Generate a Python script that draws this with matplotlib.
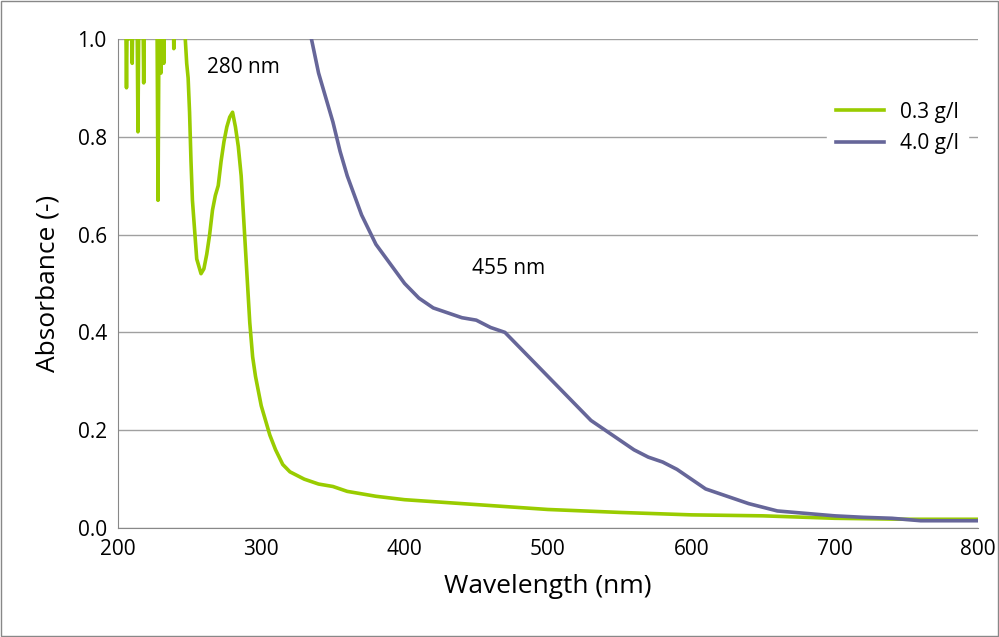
import matplotlib
matplotlib.use("Agg")
import matplotlib.pyplot as plt

plt.rcParams['font.family'] = ['Open Sans', 'DejaVu Sans']

wl_green = [205,206,207,208,209,210,211,212,213,214,215,216,217,218,219,220,221,222,223,226,227,228,229,230,231,232,233,236,238,239,240,241,244,246,247,248,249,250,251,252,253,255,258,260,262,264,266,268,270,272,274,276,278,280,282,284,286,288,290,292,294,296,298,300,303,306,310,315,320,330,340,350,360,380,400,450,500,550,600,650,700,750,800]
ab_green = [1.2,0.9,1.2,1.0,1.2,0.95,1.2,1.2,1.2,0.81,1.2,1.2,1.2,0.91,1.2,1.2,1.2,1.2,1.2,1.2,1.2,0.67,1.2,0.93,1.2,0.95,1.2,1.2,1.2,0.98,1.2,1.2,1.2,1.2,1.0,0.95,0.92,0.85,0.75,0.67,0.63,0.55,0.52,0.53,0.56,0.60,0.65,0.68,0.70,0.75,0.79,0.82,0.84,0.85,0.82,0.78,0.72,0.62,0.52,0.42,0.35,0.31,0.28,0.25,0.22,0.19,0.16,0.13,0.115,0.10,0.09,0.085,0.075,0.065,0.058,0.048,0.038,0.032,0.027,0.025,0.02,0.018,0.018]

wl_blue = [335,340,345,350,355,360,365,370,380,390,400,410,420,430,440,450,460,470,480,490,500,510,520,530,540,550,560,570,580,590,600,610,620,640,660,680,700,720,740,760,780,800]
ab_blue = [1.0,0.93,0.88,0.83,0.77,0.72,0.68,0.64,0.58,0.54,0.50,0.47,0.45,0.44,0.43,0.425,0.41,0.40,0.37,0.34,0.31,0.28,0.25,0.22,0.20,0.18,0.16,0.145,0.135,0.12,0.10,0.08,0.07,0.05,0.035,0.03,0.025,0.022,0.02,0.015,0.015,0.015]

fig = plt.figure(figsize=(9.99, 6.37), dpi=100)
ax = fig.add_axes([0.118, 0.171, 0.861, 0.768])
ax.plot(wl_green, ab_green, color='#99cc00', lw=2.6, label='0.3 g/l')
ax.plot(wl_blue, ab_blue, color='#666699', lw=2.6, label='4.0 g/l')
ax.set_xlim(200, 800)
ax.set_ylim(0, 1.0)
ax.set_xticks(range(200, 801, 100))
ax.set_yticks([0, 0.2, 0.4, 0.6, 0.8, 1.0])
ax.set_yticklabels(['0.0', '0.2', '0.4', '0.6', '0.8', '1.0'])
ax.yaxis.grid(True, color='#a0a0a0', lw=1)
ax.set_axisbelow(True)
for s in ['top', 'right']:
    ax.spines[s].set_visible(False)
for s in ['left', 'bottom']:
    ax.spines[s].set_color('#888888')
ax.tick_params(labelsize=15, length=0, pad=8)
ax.set_xlabel('Wavelength (nm)', fontsize=19, labelpad=10)
ax.set_ylabel('Absorbance (-)', fontsize=19, labelpad=12)
ax.text(262, 0.93, '280 nm', fontsize=15)
ax.text(447, 0.52, '455 nm', fontsize=15)
ax.legend(loc='upper right', bbox_to_anchor=(1.0, 0.91), fontsize=15, frameon=True,
          facecolor='white', edgecolor='white', framealpha=1, handlelength=2.3)
fig.patches.append(plt.Rectangle((0.001, 0.001), 0.998, 0.998, transform=fig.transFigure,
                                 fill=False, edgecolor='#888888', lw=1))
fig.savefig('out.png', dpi=100)
